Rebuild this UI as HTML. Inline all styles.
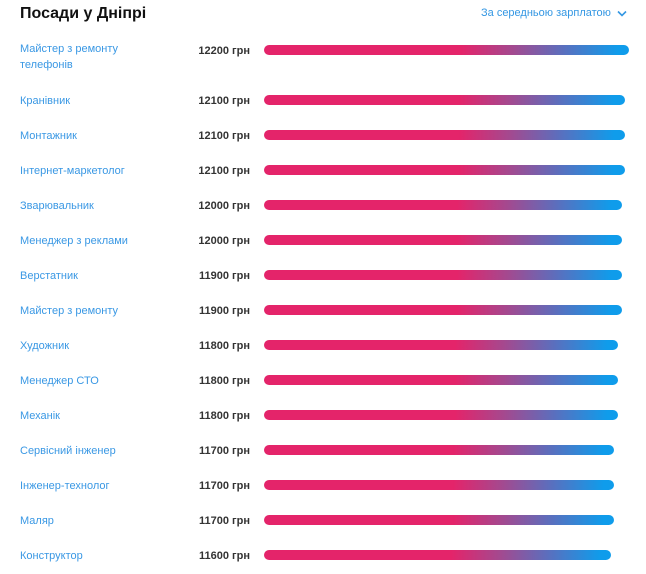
<!DOCTYPE html>
<html><head><meta charset="utf-8">
<style>
html,body{margin:0;padding:0;background:#fff;}
body{width:646px;height:574px;position:relative;overflow:hidden;font-family:"Liberation Sans",Arial,sans-serif;}
.title{position:absolute;left:20px;top:4px;font-size:16px;line-height:20px;font-weight:bold;color:#111;}
.sort{position:absolute;left:481px;top:5px;font-size:11px;line-height:16px;color:#3497e3;white-space:nowrap;}
.chev{position:absolute;left:617px;top:10px;}
.lbl{position:absolute;left:20px;width:140px;font-size:11px;line-height:16px;color:#3a98e4;}
.val{position:absolute;right:396px;font-size:11px;line-height:16px;font-weight:bold;color:#333;white-space:nowrap;}
.bar{position:absolute;left:264px;height:10px;border-radius:5px;background:linear-gradient(90deg,#e4246a 0%,#e4246a 54%,#a4498f 68%,#5a6fbe 82%,#0f9ceb 97%,#0f9ceb 100%);}
</style></head><body>
<div class="title">Посади у Дніпрі</div>
<div class="sort">За середньою зарплатою</div>
<svg class="chev" width="10" height="7" viewBox="0 0 10 7"><polyline points="1,1.5 5,5.5 9,1.5" fill="none" stroke="#3497e3" stroke-width="1.6"/></svg>

<div class="lbl" style="top:41px">Майстер з ремонту телефонів</div>
<div class="val" style="top:43px">12200 грн</div>
<div class="bar" style="top:45px;width:365px"></div>

<div class="lbl" style="top:93px">Кранівник</div>
<div class="val" style="top:93px">12100 грн</div>
<div class="bar" style="top:95px;width:361px"></div>

<div class="lbl" style="top:128px">Монтажник</div>
<div class="val" style="top:128px">12100 грн</div>
<div class="bar" style="top:130px;width:361px"></div>

<div class="lbl" style="top:163px">Інтернет-маркетолог</div>
<div class="val" style="top:163px">12100 грн</div>
<div class="bar" style="top:165px;width:361px"></div>

<div class="lbl" style="top:198px">Зварювальник</div>
<div class="val" style="top:198px">12000 грн</div>
<div class="bar" style="top:200px;width:358px"></div>

<div class="lbl" style="top:233px">Менеджер з реклами</div>
<div class="val" style="top:233px">12000 грн</div>
<div class="bar" style="top:235px;width:358px"></div>

<div class="lbl" style="top:268px">Верстатник</div>
<div class="val" style="top:268px">11900 грн</div>
<div class="bar" style="top:270px;width:358px"></div>

<div class="lbl" style="top:303px">Майстер з ремонту</div>
<div class="val" style="top:303px">11900 грн</div>
<div class="bar" style="top:305px;width:358px"></div>

<div class="lbl" style="top:338px">Художник</div>
<div class="val" style="top:338px">11800 грн</div>
<div class="bar" style="top:340px;width:354px"></div>

<div class="lbl" style="top:373px">Менеджер СТО</div>
<div class="val" style="top:373px">11800 грн</div>
<div class="bar" style="top:375px;width:354px"></div>

<div class="lbl" style="top:408px">Механік</div>
<div class="val" style="top:408px">11800 грн</div>
<div class="bar" style="top:410px;width:354px"></div>

<div class="lbl" style="top:443px">Сервісний інженер</div>
<div class="val" style="top:443px">11700 грн</div>
<div class="bar" style="top:445px;width:350px"></div>

<div class="lbl" style="top:478px">Інженер-технолог</div>
<div class="val" style="top:478px">11700 грн</div>
<div class="bar" style="top:480px;width:350px"></div>

<div class="lbl" style="top:513px">Маляр</div>
<div class="val" style="top:513px">11700 грн</div>
<div class="bar" style="top:515px;width:350px"></div>

<div class="lbl" style="top:548px">Конструктор</div>
<div class="val" style="top:548px">11600 грн</div>
<div class="bar" style="top:550px;width:347px"></div>
</body></html>
